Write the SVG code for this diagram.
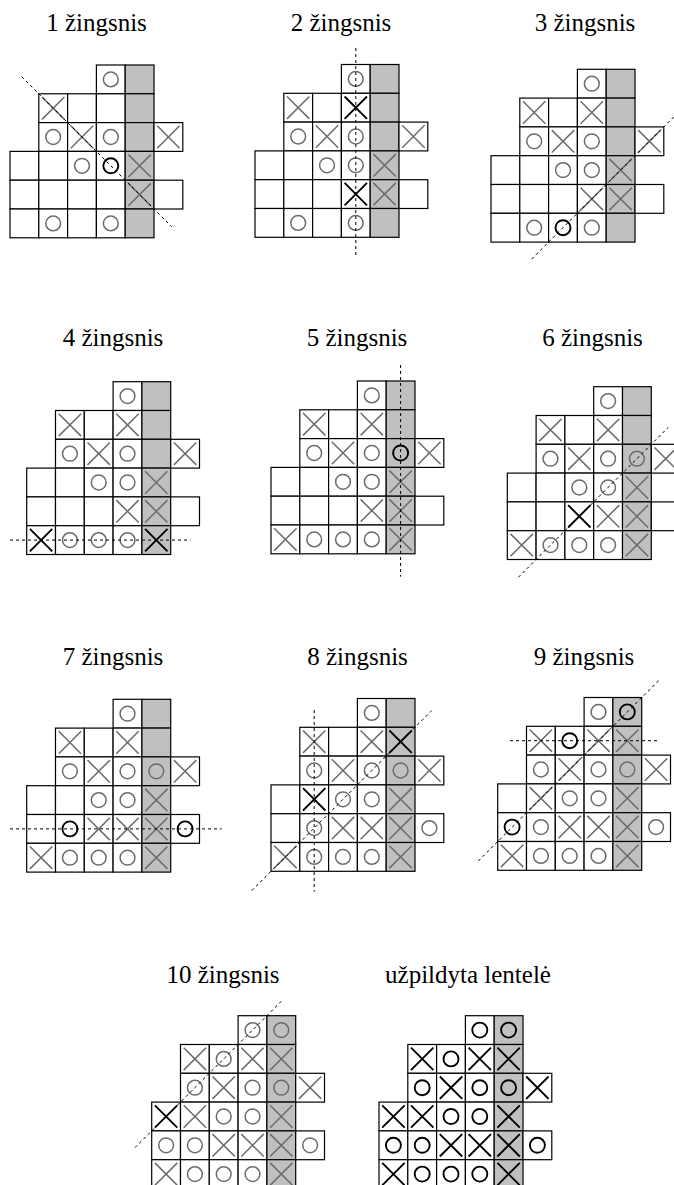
<svg xmlns="http://www.w3.org/2000/svg" width="674" height="1185" viewBox="0 0 674 1185">
<defs>
<g id="board" stroke="#000" stroke-width="1.2">
<rect fill="#fff" x="86.4" y="0" width="28.8" height="28.8"/><rect fill="#c0c0c0" x="115.2" y="0" width="28.8" height="28.8"/>
<rect fill="#fff" x="28.8" y="28.8" width="28.8" height="28.8"/><rect fill="#fff" x="57.6" y="28.8" width="28.8" height="28.8"/><rect fill="#fff" x="86.4" y="28.8" width="28.8" height="28.8"/><rect fill="#c0c0c0" x="115.2" y="28.8" width="28.8" height="28.8"/>
<rect fill="#fff" x="28.8" y="57.6" width="28.8" height="28.8"/><rect fill="#fff" x="57.6" y="57.6" width="28.8" height="28.8"/><rect fill="#fff" x="86.4" y="57.6" width="28.8" height="28.8"/><rect fill="#c0c0c0" x="115.2" y="57.6" width="28.8" height="28.8"/><rect fill="#fff" x="144" y="57.6" width="28.8" height="28.8"/>
<rect fill="#fff" x="0" y="86.4" width="28.8" height="28.8"/><rect fill="#fff" x="28.8" y="86.4" width="28.8" height="28.8"/><rect fill="#fff" x="57.6" y="86.4" width="28.8" height="28.8"/><rect fill="#fff" x="86.4" y="86.4" width="28.8" height="28.8"/><rect fill="#c0c0c0" x="115.2" y="86.4" width="28.8" height="28.8"/>
<rect fill="#fff" x="0" y="115.2" width="28.8" height="28.8"/><rect fill="#fff" x="28.8" y="115.2" width="28.8" height="28.8"/><rect fill="#fff" x="57.6" y="115.2" width="28.8" height="28.8"/><rect fill="#fff" x="86.4" y="115.2" width="28.8" height="28.8"/><rect fill="#c0c0c0" x="115.2" y="115.2" width="28.8" height="28.8"/><rect fill="#fff" x="144" y="115.2" width="28.8" height="28.8"/>
<rect fill="#fff" x="0" y="144" width="28.8" height="28.8"/><rect fill="#fff" x="28.8" y="144" width="28.8" height="28.8"/><rect fill="#fff" x="57.6" y="144" width="28.8" height="28.8"/><rect fill="#fff" x="86.4" y="144" width="28.8" height="28.8"/><rect fill="#c0c0c0" x="115.2" y="144" width="28.8" height="28.8"/>
</g>
<path id="xg" fill="none" stroke="#6b6b6b" stroke-width="1.5" d="M-11.2,-11.2L11.2,11.2M11.2,-11.2L-11.2,11.2"/>
<circle id="og" fill="none" stroke="#6b6b6b" stroke-width="1.5" r="7.4"/>
<path id="xk" fill="none" stroke="#000" stroke-width="1.9" d="M-11.2,-11.2L11.2,11.2M11.2,-11.2L-11.2,11.2"/>
<circle id="ok" fill="none" stroke="#000" stroke-width="1.9" r="7.5"/>
</defs>

<g id="titles" font-family="Liberation Serif" font-size="25" text-anchor="middle" fill="#000">
<text x="96.5" y="31" font-family="Liberation Serif">1 žingsnis</text>
<text x="341" y="31" font-family="Liberation Serif">2 žingsnis</text>
<text x="585" y="31" font-family="Liberation Serif">3 žingsnis</text>
<text x="113" y="346" font-family="Liberation Serif">4 žingsnis</text>
<text x="357" y="346" font-family="Liberation Serif">5 žingsnis</text>
<text x="592.5" y="346" font-family="Liberation Serif">6 žingsnis</text>
<text x="113" y="665" font-family="Liberation Serif">7 žingsnis</text>
<text x="357.5" y="665" font-family="Liberation Serif">8 žingsnis</text>
<text x="584" y="665" font-family="Liberation Serif">9 žingsnis</text>
<text x="223" y="983" font-family="Liberation Serif">10 žingsnis</text>
<text x="468" y="983" font-family="Liberation Serif">užpildyta lentelė</text>
</g>

<g id="step1" transform="translate(10,65)">
<use href="#board"/>
<use href="#og" x="100.8" y="14.4"/>
<use href="#xg" x="43.2" y="43.2"/>
<use href="#og" x="43.2" y="72"/><use href="#xg" x="72" y="72"/><use href="#og" x="100.8" y="72"/><use href="#xg" x="158.4" y="72"/>
<use href="#og" x="72" y="100.8"/><use href="#ok" x="100.8" y="100.8"/><use href="#xg" x="129.6" y="100.8"/>
<use href="#xg" x="129.6" y="129.6"/>
<use href="#og" x="43.2" y="158.4"/><use href="#og" x="100.8" y="158.4"/>
</g>

<g id="step2" transform="translate(255,64.5)">
<use href="#board"/>
<use href="#og" x="100.8" y="14.4"/>
<use href="#xg" x="43.2" y="43.2"/><use href="#xk" x="100.8" y="43.2"/>
<use href="#og" x="43.2" y="72"/><use href="#xg" x="72" y="72"/><use href="#og" x="100.8" y="72"/><use href="#xg" x="158.4" y="72"/>
<use href="#og" x="72" y="100.8"/><use href="#og" x="100.8" y="100.8"/><use href="#xg" x="129.6" y="100.8"/>
<use href="#xk" x="100.8" y="129.6"/><use href="#xg" x="129.6" y="129.6"/>
<use href="#og" x="43.2" y="158.4"/><use href="#og" x="100.8" y="158.4"/>
</g>

<g id="step3" transform="translate(491,69.3)">
<use href="#board"/>
<use href="#og" x="100.8" y="14.4"/>
<use href="#xg" x="43.2" y="43.2"/><use href="#xg" x="100.8" y="43.2"/>
<use href="#og" x="43.2" y="72"/><use href="#xg" x="72" y="72"/><use href="#og" x="100.8" y="72"/><use href="#xg" x="158.4" y="72"/>
<use href="#og" x="72" y="100.8"/><use href="#og" x="100.8" y="100.8"/><use href="#xg" x="129.6" y="100.8"/>
<use href="#xg" x="100.8" y="129.6"/><use href="#xg" x="129.6" y="129.6"/>
<use href="#og" x="43.2" y="158.4"/><use href="#ok" x="72" y="158.4"/><use href="#og" x="100.8" y="158.4"/>
</g>

<g id="step4" transform="translate(26.7,381.7)">
<use href="#board"/>
<use href="#og" x="100.8" y="14.4"/>
<use href="#xg" x="43.2" y="43.2"/><use href="#xg" x="100.8" y="43.2"/>
<use href="#og" x="43.2" y="72"/><use href="#xg" x="72" y="72"/><use href="#og" x="100.8" y="72"/><use href="#xg" x="158.4" y="72"/>
<use href="#og" x="72" y="100.8"/><use href="#og" x="100.8" y="100.8"/><use href="#xg" x="129.6" y="100.8"/>
<use href="#xg" x="100.8" y="129.6"/><use href="#xg" x="129.6" y="129.6"/>
<use href="#xk" x="14.4" y="158.4"/><use href="#og" x="43.2" y="158.4"/><use href="#og" x="72" y="158.4"/><use href="#og" x="100.8" y="158.4"/><use href="#xk" x="129.6" y="158.4"/>
</g>

<g id="step5" transform="translate(271,381)">
<use href="#board"/>
<use href="#og" x="100.8" y="14.4"/>
<use href="#xg" x="43.2" y="43.2"/><use href="#xg" x="100.8" y="43.2"/>
<use href="#og" x="43.2" y="72"/><use href="#xg" x="72" y="72"/><use href="#og" x="100.8" y="72"/><use href="#ok" x="129.6" y="72"/><use href="#xg" x="158.4" y="72"/>
<use href="#og" x="72" y="100.8"/><use href="#og" x="100.8" y="100.8"/><use href="#xg" x="129.6" y="100.8"/>
<use href="#xg" x="100.8" y="129.6"/><use href="#xg" x="129.6" y="129.6"/>
<use href="#xg" x="14.4" y="158.4"/><use href="#og" x="43.2" y="158.4"/><use href="#og" x="72" y="158.4"/><use href="#og" x="100.8" y="158.4"/><use href="#xg" x="129.6" y="158.4"/>
</g>

<g id="step6" transform="translate(507.3,386.7)">
<use href="#board"/>
<use href="#og" x="100.8" y="14.4"/>
<use href="#xg" x="43.2" y="43.2"/><use href="#xg" x="100.8" y="43.2"/>
<use href="#og" x="43.2" y="72"/><use href="#xg" x="72" y="72"/><use href="#og" x="100.8" y="72"/><use href="#og" x="129.6" y="72"/><use href="#xg" x="158.4" y="72"/>
<use href="#og" x="72" y="100.8"/><use href="#og" x="100.8" y="100.8"/><use href="#xg" x="129.6" y="100.8"/>
<use href="#xk" x="72" y="129.6"/><use href="#xg" x="100.8" y="129.6"/><use href="#xg" x="129.6" y="129.6"/>
<use href="#xg" x="14.4" y="158.4"/><use href="#og" x="43.2" y="158.4"/><use href="#og" x="72" y="158.4"/><use href="#og" x="100.8" y="158.4"/><use href="#xg" x="129.6" y="158.4"/>
</g>

<g id="step7" transform="translate(26.7,699.3)">
<use href="#board"/>
<use href="#og" x="100.8" y="14.4"/>
<use href="#xg" x="43.2" y="43.2"/><use href="#xg" x="100.8" y="43.2"/>
<use href="#og" x="43.2" y="72"/><use href="#xg" x="72" y="72"/><use href="#og" x="100.8" y="72"/><use href="#og" x="129.6" y="72"/><use href="#xg" x="158.4" y="72"/>
<use href="#og" x="72" y="100.8"/><use href="#og" x="100.8" y="100.8"/><use href="#xg" x="129.6" y="100.8"/>
<use href="#ok" x="43.2" y="129.6"/><use href="#xg" x="72" y="129.6"/><use href="#xg" x="100.8" y="129.6"/><use href="#xg" x="129.6" y="129.6"/><use href="#ok" x="158.4" y="129.6"/>
<use href="#xg" x="14.4" y="158.4"/><use href="#og" x="43.2" y="158.4"/><use href="#og" x="72" y="158.4"/><use href="#og" x="100.8" y="158.4"/><use href="#xg" x="129.6" y="158.4"/>
</g>

<g id="step8" transform="translate(271,698.5)">
<use href="#board"/>
<use href="#og" x="100.8" y="14.4"/>
<use href="#xg" x="43.2" y="43.2"/><use href="#xg" x="100.8" y="43.2"/><use href="#xk" x="129.6" y="43.2"/>
<use href="#og" x="43.2" y="72"/><use href="#xg" x="72" y="72"/><use href="#og" x="100.8" y="72"/><use href="#og" x="129.6" y="72"/><use href="#xg" x="158.4" y="72"/>
<use href="#xk" x="43.2" y="100.8"/><use href="#og" x="72" y="100.8"/><use href="#og" x="100.8" y="100.8"/><use href="#xg" x="129.6" y="100.8"/>
<use href="#og" x="43.2" y="129.6"/><use href="#xg" x="72" y="129.6"/><use href="#xg" x="100.8" y="129.6"/><use href="#xg" x="129.6" y="129.6"/><use href="#og" x="158.4" y="129.6"/>
<use href="#xg" x="14.4" y="158.4"/><use href="#og" x="43.2" y="158.4"/><use href="#og" x="72" y="158.4"/><use href="#og" x="100.8" y="158.4"/><use href="#xg" x="129.6" y="158.4"/>
</g>

<g id="step9" transform="translate(497.7,697.5)">
<use href="#board"/>
<use href="#og" x="100.8" y="14.4"/><use href="#ok" x="129.6" y="14.4"/>
<use href="#xg" x="43.2" y="43.2"/><use href="#ok" x="72" y="43.2"/><use href="#xg" x="100.8" y="43.2"/><use href="#xg" x="129.6" y="43.2"/>
<use href="#og" x="43.2" y="72"/><use href="#xg" x="72" y="72"/><use href="#og" x="100.8" y="72"/><use href="#og" x="129.6" y="72"/><use href="#xg" x="158.4" y="72"/>
<use href="#xg" x="43.2" y="100.8"/><use href="#og" x="72" y="100.8"/><use href="#og" x="100.8" y="100.8"/><use href="#xg" x="129.6" y="100.8"/>
<use href="#ok" x="14.4" y="129.6"/><use href="#og" x="43.2" y="129.6"/><use href="#xg" x="72" y="129.6"/><use href="#xg" x="100.8" y="129.6"/><use href="#xg" x="129.6" y="129.6"/><use href="#og" x="158.4" y="129.6"/>
<use href="#xg" x="14.4" y="158.4"/><use href="#og" x="43.2" y="158.4"/><use href="#og" x="72" y="158.4"/><use href="#og" x="100.8" y="158.4"/><use href="#xg" x="129.6" y="158.4"/>
</g>

<g id="step10" transform="translate(151.7,1015.7)">
<use href="#board"/>
<use href="#og" x="100.8" y="14.4"/><use href="#og" x="129.6" y="14.4"/>
<use href="#xg" x="43.2" y="43.2"/><use href="#og" x="72" y="43.2"/><use href="#xg" x="100.8" y="43.2"/><use href="#xg" x="129.6" y="43.2"/>
<use href="#og" x="43.2" y="72"/><use href="#xg" x="72" y="72"/><use href="#og" x="100.8" y="72"/><use href="#og" x="129.6" y="72"/><use href="#xg" x="158.4" y="72"/>
<use href="#xk" x="14.4" y="100.8"/><use href="#xg" x="43.2" y="100.8"/><use href="#og" x="72" y="100.8"/><use href="#og" x="100.8" y="100.8"/><use href="#xg" x="129.6" y="100.8"/>
<use href="#og" x="14.4" y="129.6"/><use href="#og" x="43.2" y="129.6"/><use href="#xg" x="72" y="129.6"/><use href="#xg" x="100.8" y="129.6"/><use href="#xg" x="129.6" y="129.6"/><use href="#og" x="158.4" y="129.6"/>
<use href="#xg" x="14.4" y="158.4"/><use href="#og" x="43.2" y="158.4"/><use href="#og" x="72" y="158.4"/><use href="#og" x="100.8" y="158.4"/><use href="#xg" x="129.6" y="158.4"/>
</g>

<g id="final" transform="translate(379,1015.7)">
<use href="#board"/>
<use href="#ok" x="100.8" y="14.4"/><use href="#ok" x="129.6" y="14.4"/>
<use href="#xk" x="43.2" y="43.2"/><use href="#ok" x="72" y="43.2"/><use href="#xk" x="100.8" y="43.2"/><use href="#xk" x="129.6" y="43.2"/>
<use href="#ok" x="43.2" y="72"/><use href="#xk" x="72" y="72"/><use href="#ok" x="100.8" y="72"/><use href="#ok" x="129.6" y="72"/><use href="#xk" x="158.4" y="72"/>
<use href="#xk" x="14.4" y="100.8"/><use href="#xk" x="43.2" y="100.8"/><use href="#ok" x="72" y="100.8"/><use href="#ok" x="100.8" y="100.8"/><use href="#xk" x="129.6" y="100.8"/>
<use href="#ok" x="14.4" y="129.6"/><use href="#ok" x="43.2" y="129.6"/><use href="#xk" x="72" y="129.6"/><use href="#xk" x="100.8" y="129.6"/><use href="#xk" x="129.6" y="129.6"/><use href="#ok" x="158.4" y="129.6"/>
<use href="#xk" x="14.4" y="158.4"/><use href="#ok" x="43.2" y="158.4"/><use href="#ok" x="72" y="158.4"/><use href="#ok" x="100.8" y="158.4"/><use href="#xk" x="129.6" y="158.4"/>
</g>

<g id="connectors" fill="none" stroke="#000" stroke-width="1" stroke-dasharray="3 3">
<line x1="21.7" y1="76.7" x2="171.7" y2="226.7"/>
<line x1="355.8" y1="48" x2="355.8" y2="258"/>
<line x1="531.7" y1="259" x2="676" y2="114.7"/>
<line x1="10" y1="540.1" x2="190.7" y2="540.1"/>
<line x1="400.6" y1="365" x2="400.6" y2="576.7"/>
<line x1="518.3" y1="577.3" x2="668.3" y2="427.3"/>
<line x1="10" y1="828.9" x2="221.7" y2="828.9"/>
<line x1="314.2" y1="710" x2="314.2" y2="891.7"/>
<line x1="251.7" y1="890.6" x2="431.7" y2="710.6"/>
<line x1="510" y1="740.7" x2="658.3" y2="740.7"/>
<line x1="478.3" y1="861" x2="659.3" y2="680"/>
<line x1="135" y1="1147.6" x2="283.3" y2="999.3"/>
</g>
</svg>
